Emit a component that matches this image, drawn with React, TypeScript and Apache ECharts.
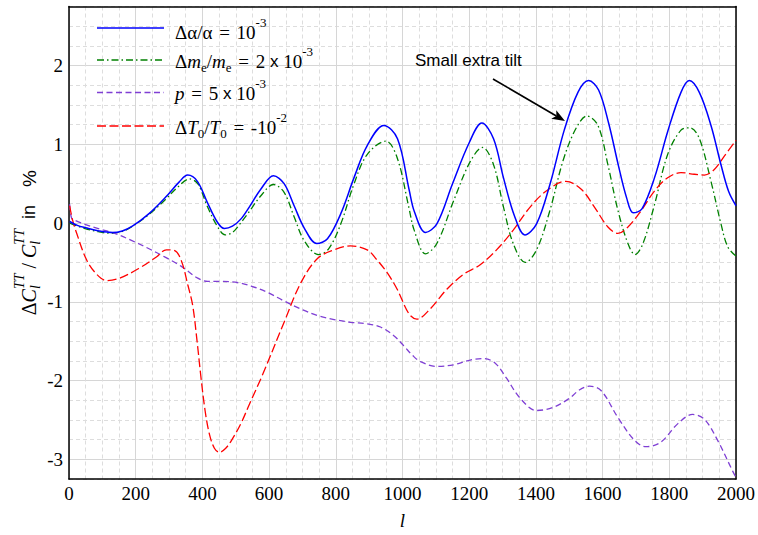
import React, { useEffect, useRef } from "react";
import * as echarts from "echarts";

const SERIF = "Liberation Serif";
const SANS = "Liberation Sans";

// Relative change of the TT power spectrum (in %) versus multipole l
const alphaL = [2, 25, 50, 90, 130, 160, 190, 240, 290, 330, 356, 385, 415, 445, 466, 490, 515, 540, 575, 613, 645, 675, 705, 743, 775, 815, 855, 895, 944, 985, 1020, 1036, 1069, 1103, 1150, 1200, 1238, 1273, 1303, 1335, 1367, 1402, 1442, 1485, 1526, 1558, 1588, 1618, 1648, 1672, 1692, 1718, 1756, 1795, 1835, 1860, 1890, 1925, 1955, 1978, 2000];
const alphaV = [0.02, -0.03, -0.06, -0.1, -0.12, -0.1, -0.04, 0.12, 0.33, 0.52, 0.61, 0.53, 0.26, 0.01, -0.07, -0.04, 0.05, 0.2, 0.43, 0.6, 0.5, 0.22, -0.06, -0.26, -0.2, 0.12, 0.58, 0.99, 1.24, 1.07, 0.42, 0.14, -0.12, -0.01, 0.5, 1.02, 1.27, 1.07, 0.57, 0.1, -0.15, -0.01, 0.49, 1.18, 1.66, 1.81, 1.69, 1.27, 0.72, 0.32, 0.13, 0.18, 0.58, 1.16, 1.66, 1.81, 1.66, 1.24, 0.74, 0.4, 0.22];

const electronL = [2, 48, 88, 127, 157, 187, 237, 287, 327, 361, 386, 416, 446, 468, 490, 511, 536, 576, 613, 645, 675, 705, 748, 778, 815, 854, 894, 950, 984, 1019, 1035, 1069, 1103, 1153, 1203, 1240, 1273, 1303, 1332, 1368, 1402, 1442, 1482, 1520, 1553, 1586, 1616, 1646, 1676, 1697, 1721, 1756, 1795, 1835, 1862, 1890, 1925, 1955, 1975, 2000];
const electronV = [0.0, -0.07, -0.11, -0.13, -0.11, -0.05, 0.1, 0.29, 0.46, 0.56, 0.5, 0.2, -0.05, -0.15, -0.12, -0.02, 0.12, 0.35, 0.49, 0.39, 0.08, -0.22, -0.4, -0.33, -0.01, 0.49, 0.87, 1.04, 0.83, 0.2, -0.09, -0.39, -0.26, 0.28, 0.78, 0.96, 0.74, 0.2, -0.26, -0.5, -0.34, 0.16, 0.8, 1.2, 1.36, 1.24, 0.74, 0.16, -0.26, -0.4, -0.26, 0.24, 0.87, 1.18, 1.21, 1.075, 0.53, -0.01, -0.3, -0.42];

const pL = [2, 8, 20, 50, 88, 137, 187, 237, 287, 337, 386, 416, 456, 511, 546, 595, 645, 695, 745, 795, 844, 894, 934, 974, 1004, 1030, 1054, 1103, 1153, 1203, 1243, 1278, 1312, 1352, 1402, 1452, 1502, 1530, 1561, 1596, 1646, 1696, 1730, 1775, 1825, 1870, 1905, 1945, 1990, 2000];
const pV = [0.24, 0.06, 0.03, -0.02, -0.07, -0.13, -0.22, -0.32, -0.43, -0.55, -0.7, -0.74, -0.74, -0.76, -0.8, -0.88, -0.99, -1.09, -1.175, -1.225, -1.26, -1.28, -1.32, -1.43, -1.56, -1.68, -1.76, -1.82, -1.8, -1.74, -1.72, -1.78, -1.97, -2.22, -2.38, -2.34, -2.22, -2.12, -2.07, -2.13, -2.47, -2.76, -2.84, -2.78, -2.55, -2.43, -2.49, -2.76, -3.15, -3.23];

const tempL = [2, 10, 23, 53, 83, 113, 152, 212, 262, 292, 317, 337, 356, 371, 384, 396, 408, 421, 436, 451, 470, 490, 515, 541, 580, 645, 695, 745, 795, 844, 894, 924, 954, 984, 1019, 1043, 1083, 1133, 1183, 1233, 1282, 1332, 1382, 1432, 1490, 1536, 1576, 1616, 1646, 1676, 1716, 1756, 1795, 1835, 1875, 1905, 1935, 1965, 2000];
const tempV = [0.22, 0.05, -0.13, -0.47, -0.65, -0.73, -0.7, -0.57, -0.43, -0.34, -0.35, -0.48, -0.78, -1.05, -1.5, -1.97, -2.38, -2.68, -2.86, -2.91, -2.86, -2.74, -2.55, -2.3, -1.93, -1.26, -0.76, -0.45, -0.34, -0.29, -0.34, -0.47, -0.63, -0.84, -1.15, -1.22, -1.09, -0.84, -0.65, -0.53, -0.34, -0.09, 0.2, 0.41, 0.53, 0.43, 0.2, -0.05, -0.13, -0.05, 0.16, 0.41, 0.575, 0.64, 0.62, 0.61, 0.68, 0.85, 1.05];

// Axis ranges
const X_MIN = 0;
const X_MAX = 2000;
const X_STEP = 200;
const Y_MIN = -3.25;
const Y_MAX = 2.75;
const Y_STEP = 0.25;

const legendTexts = [
  "{n|Δα/α }{eq|=}{n| 10}{sup|-3}",
  "{n|Δ}{i|m}{sub|e}{n|/}{i|m}{sub|e}{n| }{eq|=}{n| 2 }{x|x}{n| 10}{sup|-3}",
  "{i|p}{n| }{eq|=}{n| 5 }{x|x}{n| 10}{sup|-3}",
  "{n|Δ}{i|T}{sub|0}{n|/}{i|T}{sub|0}{n| }{eq|=}{n| -10}{sup|-2}",
];

const BLUE = "#0000ff";
const GREEN = "#008000";
const PURPLE = "#7f3fd4";
const RED = "#ff0000";

const styles = [
  { color: BLUE, width: 1.5, dash: null as number[] | null },
  { color: GREEN, width: 1.3, dash: [7, 3, 1.5, 3] },
  { color: PURPLE, width: 1.3, dash: [6, 3.5] },
  { color: RED, width: 1.3, dash: [9, 3.5] },
];

const pairs = (ls: number[], vs: number[]) => ls.map((l, i) => [l, vs[i]]);

const GRID_SOLID = "#d6d6d6";
const GRID_DASH = "#dddddd";
const CLEAR = "rgba(0,0,0,0)";

const legendRich = {
  n: { fontFamily: SERIF, fontSize: 19, lineHeight: 33, fill: "#000" },
  eq: { fontFamily: SERIF, fontSize: 19, lineHeight: 33, fill: "#000", padding: [0, 2, 0, 2] },
  i: { fontFamily: SERIF, fontSize: 19, fontStyle: "italic", lineHeight: 33, fill: "#000" },
  x: { fontFamily: SANS, fontSize: 17, lineHeight: 33, fill: "#000" },
  sup: { fontFamily: SERIF, fontSize: 13, height: 13, verticalAlign: "top", fill: "#000" },
  sub: { fontFamily: SERIF, fontSize: 13, height: 21, verticalAlign: "bottom", fill: "#000" },
};

const legendRowsY = [28, 60, 92.5, 126];
const legendTextY = [32, 61, 93, 127];

function buildGraphic() {
  const items: any[] = [];
  legendTexts.forEach((t, k) => {
    const s = styles[k];
    items.push({
      type: "line",
      z: 100,
      shape: { x1: 97, y1: legendRowsY[k], x2: 164, y2: legendRowsY[k] },
      style: { stroke: s.color, lineWidth: s.width, lineDash: s.dash || undefined },
    });
    items.push({
      type: "text",
      z: 100,
      x: 175,
      y: legendTextY[k],
      style: { text: t, rich: legendRich, fontFamily: SERIF, fontSize: 19, align: "left", verticalAlign: "middle" },
    });
  });

  // annotation with arrow
  const tail = [493, 79];
  const tip = [565, 121];
  const dx = tip[0] - tail[0];
  const dy = tip[1] - tail[1];
  const len = Math.hypot(dx, dy);
  const ux = dx / len;
  const uy = dy / len;
  const nx = -uy;
  const ny = ux;
  const headL = 13;
  const headW = 5;
  const bx = tip[0] - headL * ux;
  const by = tip[1] - headL * uy;
  const notch = [tip[0] - 10 * ux, tip[1] - 10 * uy];
  items.push({
    type: "text",
    z: 100,
    x: 415,
    y: 60,
    style: { text: "Small extra tilt", fontFamily: SANS, fontSize: 17, fill: "#000", align: "left", verticalAlign: "middle" },
  });
  items.push({
    type: "line",
    z: 100,
    shape: { x1: tail[0], y1: tail[1], x2: notch[0], y2: notch[1] },
    style: { stroke: "#000", lineWidth: 1.6 },
  });
  items.push({
    type: "polygon",
    z: 100,
    shape: {
      points: [
        [tip[0], tip[1]],
        [bx + headW * nx, by + headW * ny],
        [notch[0], notch[1]],
        [bx - headW * nx, by - headW * ny],
      ],
    },
    style: { fill: "#000" },
  });
  return items;
}

const isInt = (v: number) => Math.abs(v - Math.round(v)) < 1e-6;

export default function App() {
  const ref = useRef<HTMLDivElement>(null);

  useEffect(() => {
    const chart = echarts.init(ref.current!, null, { renderer: "svg" });
    const names = ["Δα/α", "Δme/me", "p", "ΔT0/T0"];
    const data = [pairs(alphaL, alphaV), pairs(electronL, electronV), pairs(pL, pV), pairs(tempL, tempV)];

    const axisLineStyle = { show: true, onZero: false, lineStyle: { color: "#000", width: 1.5 } };

    chart.setOption({
      animation: false,
      backgroundColor: "#ffffff",
      textStyle: { fontFamily: SERIF },
      grid: { left: 69, top: 6.5, width: 669, height: 480, containLabel: false },
      xAxis: [
        {
          type: "value",
          min: X_MIN,
          max: X_MAX,
          interval: X_STEP,
          position: "bottom",
          axisLine: axisLineStyle,
          axisTick: { show: false },
          axisLabel: {
            color: "#000",
            fontFamily: SERIF,
            fontSize: 19,
            margin: 4,
            lineHeight: 20,
            formatter: (v: number) => String(Math.round(v)),
          },
          splitLine: { show: true, lineStyle: { color: GRID_SOLID, width: 1 } },
          minorTick: { show: false, splitNumber: 4 },
          minorSplitLine: { show: true, lineStyle: { color: GRID_DASH, width: 1, type: [4, 3] } },
          name: "l",
          nameLocation: "middle",
          nameGap: 31,
          nameMoveOverlap: false,
          nameTextStyle: { color: "#000", fontFamily: SERIF, fontStyle: "italic", fontSize: 19, lineHeight: 20 },
        },
        {
          type: "value",
          min: X_MIN,
          max: X_MAX,
          interval: X_STEP,
          position: "top",
          axisLine: axisLineStyle,
          axisTick: { show: false },
          axisLabel: { show: false },
          splitLine: { show: false },
        },
      ],
      yAxis: [
        {
          type: "value",
          min: Y_MIN,
          max: Y_MAX,
          interval: Y_STEP,
          position: "left",
          axisLine: axisLineStyle,
          axisTick: { show: false },
          axisLabel: {
            color: "#000",
            fontFamily: SERIF,
            fontSize: 19,
            margin: 6,
            formatter: (v: number) => (isInt(v) ? String(Math.round(v)) : ""),
          },
          splitLine: { show: true, lineStyle: { color: [GRID_DASH, CLEAR, GRID_DASH, GRID_DASH], width: 1, type: [4, 3] } },
          name: "{n|Δ}{i|C}{sub|l}{sup|TT}{n| / }{i|C}{sub|l}{sup|TT}{s|  in}{pct|%}",
          nameLocation: "middle",
          nameRotate: 90,
          nameGap: 23.5,
          nameMoveOverlap: false,
          nameTextStyle: {
            color: "#000",
            fontFamily: SERIF,
            fontSize: 20,
            rich: {
              n: { fontFamily: SERIF, fontSize: 20, lineHeight: 33, color: "#000", align: "left" },
              i: { fontFamily: SERIF, fontSize: 20, fontStyle: "italic", lineHeight: 33, color: "#000", align: "left" },
              s: { fontFamily: SANS, fontSize: 18, lineHeight: 33, color: "#000", align: "left" },
              pct: { fontFamily: SANS, fontSize: 19, lineHeight: 33, color: "#000", align: "left", padding: [0, 0, 0, 18] },
              sub: { fontFamily: SERIF, fontSize: 14, fontStyle: "italic", height: 21, width: 0, verticalAlign: "bottom", color: "#000", align: "left" },
              sup: { fontFamily: SERIF, fontSize: 14, fontStyle: "italic", height: 14, verticalAlign: "top", color: "#000", align: "left" },
            },
          },
        },
        {
          type: "value",
          min: Y_MIN,
          max: Y_MAX,
          interval: Y_STEP,
          position: "right",
          axisLine: axisLineStyle,
          axisTick: { show: false },
          axisLabel: { show: false },
          splitLine: { show: true, lineStyle: { color: [CLEAR, GRID_SOLID, CLEAR, CLEAR], width: 1, type: "solid" } },
        },
      ],
      series: data.map((d, k) => ({
        type: "line",
        name: names[k],
        data: d,
        xAxisIndex: 0,
        yAxisIndex: 0,
        symbol: "none",
        showSymbol: false,
        smooth: 0.35,
        clip: true,
        z: 3 + (k === 0 ? 4 : k),
        lineStyle: { color: styles[k].color, width: styles[k].width, type: styles[k].dash || "solid" },
      })),
      graphic: buildGraphic(),
    });

    return () => chart.dispose();
  }, []);

  return <div ref={ref} style={{ position: "fixed", left: 0, top: 0, width: 758, height: 535 }} />;
}
